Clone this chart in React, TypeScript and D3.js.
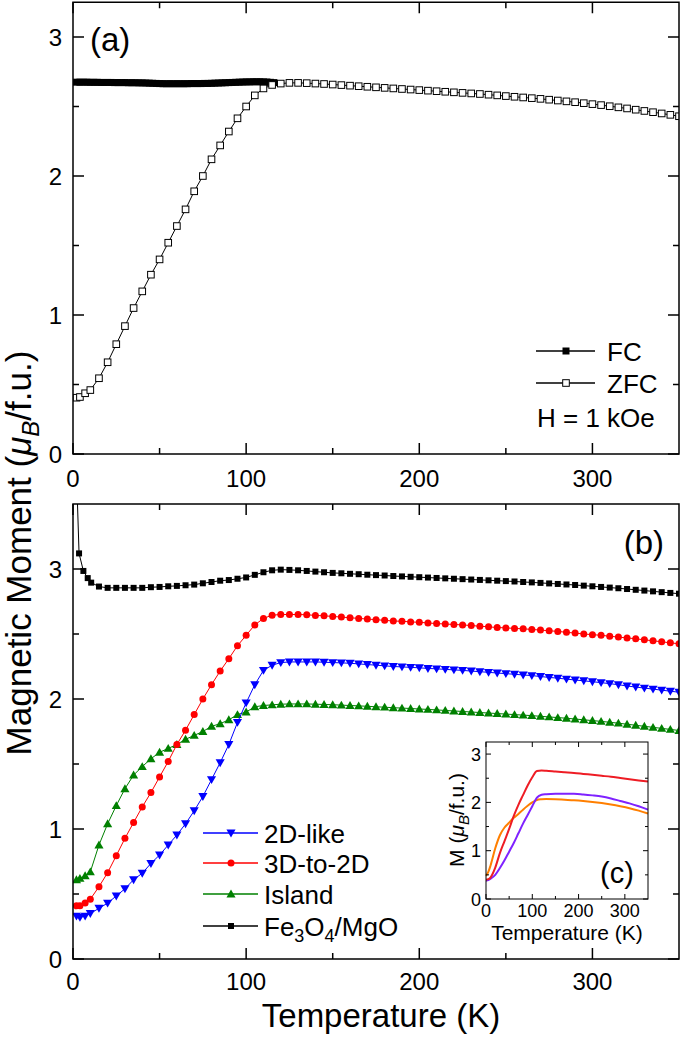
import React from "react";
import * as d3 from "d3";

// ---------- data ----------
const xMajorTicks = [0, 100, 200, 300];
const xMinorTicks = [50, 150, 250];
const yMajorTicks = [0, 1, 2, 3];
const yMinorTicks = [0.5, 1.5, 2.5];

// panel (a)
const tFC = [2, 4, 6, 8, 10, 12, 14, 16, 18, 20, 22, 24, 26, 28, 30, 32, 34, 36, 38, 40, 42, 44, 46, 48, 50, 52, 54, 56, 58, 60, 62, 64, 66, 68, 70, 72, 74, 76, 78, 80, 82, 84, 86, 88, 90, 92, 94, 96, 98, 100, 102, 104, 106, 108, 110, 112, 114, 116];
const mFC = [2.675, 2.675, 2.675, 2.675, 2.674, 2.674, 2.674, 2.673, 2.673, 2.673, 2.673, 2.672, 2.672, 2.672, 2.672, 2.671, 2.671, 2.671, 2.67, 2.67, 2.669, 2.668, 2.667, 2.666, 2.665, 2.664, 2.664, 2.664, 2.664, 2.664, 2.664, 2.664, 2.664, 2.665, 2.665, 2.665, 2.665, 2.666, 2.666, 2.667, 2.668, 2.669, 2.67, 2.671, 2.672, 2.673, 2.674, 2.675, 2.676, 2.677, 2.677, 2.678, 2.678, 2.678, 2.677, 2.676, 2.674, 2.672];

const tZFC = [2, 4, 7, 10, 15, 20, 25, 30, 35, 40, 45, 50, 55, 60, 65, 70, 75, 80, 85, 90, 95, 100, 105, 110, 115, 120, 125, 130, 135, 140, 145, 150, 155, 160, 165, 170, 175, 180, 185, 190, 195, 200, 205, 210, 215, 220, 225, 230, 235, 240, 245, 250, 255, 260, 265, 270, 275, 280, 285, 290, 295, 300, 305, 310, 315, 320, 325, 330, 335, 340, 345, 350];
const mZFC = [0.405, 0.41, 0.437, 0.46, 0.545, 0.66, 0.79, 0.92, 1.05, 1.17, 1.29, 1.4, 1.52, 1.64, 1.76, 1.89, 2.0, 2.12, 2.22, 2.32, 2.415, 2.5, 2.58, 2.63, 2.655, 2.665, 2.67, 2.67, 2.668, 2.665, 2.662, 2.658, 2.654, 2.65, 2.646, 2.642, 2.638, 2.634, 2.63, 2.626, 2.622, 2.618, 2.614, 2.61, 2.606, 2.602, 2.598, 2.594, 2.59, 2.585, 2.58, 2.575, 2.57, 2.565, 2.56, 2.555, 2.549, 2.543, 2.537, 2.531, 2.524, 2.517, 2.51, 2.502, 2.494, 2.486, 2.477, 2.468, 2.459, 2.45, 2.44, 2.43];

// panel (b)
const tB = [2, 4, 7, 10, 15, 20, 25, 30, 35, 40, 45, 50, 55, 60, 65, 70, 75, 80, 85, 90, 95, 100, 105, 110, 115, 120, 125, 130, 135, 140, 145, 150, 155, 160, 165, 170, 175, 180, 185, 190, 195, 200, 205, 210, 215, 220, 225, 230, 235, 240, 245, 250, 255, 260, 265, 270, 275, 280, 285, 290, 295, 300, 305, 310, 315, 320, 325, 330, 335, 340, 345, 350];
const m2D = [0.33, 0.32, 0.33, 0.35, 0.39, 0.43, 0.485, 0.54, 0.61, 0.66, 0.735, 0.8, 0.877, 0.954, 1.04, 1.14, 1.25, 1.38, 1.51, 1.65, 1.82, 1.97, 2.11, 2.22, 2.26, 2.28, 2.285, 2.285, 2.285, 2.285, 2.283, 2.28, 2.278, 2.275, 2.27, 2.265, 2.26, 2.255, 2.25, 2.247, 2.243, 2.24, 2.235, 2.232, 2.228, 2.224, 2.22, 2.215, 2.21, 2.205, 2.2, 2.195, 2.19, 2.185, 2.18, 2.173, 2.166, 2.16, 2.153, 2.146, 2.14, 2.133, 2.126, 2.118, 2.11, 2.1, 2.092, 2.084, 2.076, 2.068, 2.06, 2.052];
const m3D = [0.41, 0.41, 0.43, 0.46, 0.556, 0.664, 0.795, 0.928, 1.05, 1.17, 1.28, 1.4, 1.52, 1.65, 1.76, 1.88, 2.0, 2.11, 2.215, 2.31, 2.41, 2.49, 2.57, 2.62, 2.645, 2.65, 2.65, 2.65, 2.648, 2.643, 2.64, 2.635, 2.63, 2.625, 2.62, 2.615, 2.61, 2.605, 2.6, 2.598, 2.593, 2.59, 2.585, 2.58, 2.577, 2.573, 2.57, 2.565, 2.56, 2.555, 2.55, 2.547, 2.543, 2.54, 2.535, 2.53, 2.525, 2.52, 2.513, 2.507, 2.5, 2.495, 2.49, 2.483, 2.476, 2.47, 2.463, 2.455, 2.448, 2.44, 2.432, 2.425];
const mIsland = [0.61, 0.62, 0.64, 0.67, 0.877, 1.04, 1.18, 1.31, 1.415, 1.48, 1.54, 1.59, 1.62, 1.65, 1.69, 1.72, 1.75, 1.79, 1.81, 1.84, 1.88, 1.9, 1.94, 1.95, 1.955, 1.96, 1.962, 1.962, 1.962, 1.96, 1.958, 1.956, 1.953, 1.95, 1.947, 1.944, 1.94, 1.937, 1.933, 1.93, 1.927, 1.923, 1.92, 1.916, 1.912, 1.908, 1.904, 1.9, 1.896, 1.892, 1.888, 1.884, 1.88, 1.876, 1.872, 1.867, 1.862, 1.857, 1.852, 1.846, 1.84, 1.834, 1.828, 1.821, 1.814, 1.806, 1.798, 1.79, 1.782, 1.774, 1.766, 1.758];
const tFe = [2, 3.5, 6, 8.5, 10.5, 15, 20, 25, 30, 35, 40, 45, 50, 55, 60, 65, 70, 75, 80, 85, 90, 95, 100, 105, 110, 115, 120, 125, 130, 135, 140, 145, 150, 155, 160, 165, 170, 175, 180, 185, 190, 195, 200, 205, 210, 215, 220, 225, 230, 235, 240, 245, 250, 255, 260, 265, 270, 275, 280, 285, 290, 295, 300, 305, 310, 315, 320, 325, 330, 335, 340, 345, 350];
const mFe = [3.75, 3.12, 2.985, 2.93, 2.895, 2.865, 2.855, 2.855, 2.855, 2.855, 2.855, 2.86, 2.862, 2.867, 2.87, 2.875, 2.88, 2.89, 2.9, 2.91, 2.915, 2.925, 2.935, 2.955, 2.975, 2.99, 2.995, 2.993, 2.99, 2.985, 2.98, 2.975, 2.97, 2.967, 2.963, 2.96, 2.956, 2.953, 2.95, 2.946, 2.943, 2.94, 2.937, 2.934, 2.931, 2.928, 2.925, 2.922, 2.919, 2.916, 2.913, 2.91, 2.907, 2.904, 2.9, 2.897, 2.893, 2.889, 2.885, 2.881, 2.877, 2.872, 2.867, 2.862, 2.857, 2.852, 2.846, 2.84, 2.834, 2.828, 2.822, 2.816, 2.81];

// inset (c)
const tInset = [0, 5, 10, 20, 30, 40, 50, 60, 70, 80, 90, 100, 110, 120, 130, 150, 170, 190, 210, 230, 250, 270, 290, 310, 330, 350];
const mInsetRed = [0.4, 0.41, 0.45, 0.65, 0.95, 1.2, 1.45, 1.72, 1.95, 2.15, 2.35, 2.52, 2.65, 2.66, 2.655, 2.64, 2.625, 2.61, 2.59, 2.57, 2.55, 2.53, 2.505, 2.48, 2.455, 2.43];
const mInsetPurple = [0.38, 0.39, 0.42, 0.5, 0.64, 0.8, 0.98, 1.16, 1.36, 1.56, 1.74, 1.92, 2.1, 2.16, 2.17, 2.18, 2.18, 2.18, 2.165, 2.145, 2.12, 2.08, 2.03, 1.98, 1.92, 1.85];
const mInsetOrange = [0.48, 0.56, 0.7, 1.05, 1.32, 1.48, 1.58, 1.68, 1.76, 1.85, 1.93, 2.0, 2.05, 2.065, 2.07, 2.065, 2.055, 2.045, 2.03, 2.01, 1.985, 1.955, 1.92, 1.88, 1.83, 1.77];

const legendB = ["2D-like", "3D-to-2D", "Island", "Fe3O4/MgO"];
const legendA = ["FC", "ZFC"];

// ---------- styles ----------
const FONT = "'Liberation Sans', Arial, Helvetica, sans-serif";
const RED = "#ff0000";
const BLUE = "#0000ff";
const GREEN = "#008000";

type Scale = d3.ScaleLinear<number, number>;

function Frame({ xs, ys, xMaj, xMin, yMaj, yMin, majLen, minLen, sw }: any) {
  const [x0, x1] = xs.range();
  const [y0, y1] = ys.range();
  const lines: any[] = [];
  xMaj.forEach((v: number, i: number) => {
    const x = xs(v);
    lines.push(<line key={"xM" + i} x1={x} x2={x} y1={y0} y2={y0 - majLen} />);
    lines.push(<line key={"xMt" + i} x1={x} x2={x} y1={y1} y2={y1 + majLen} />);
  });
  xMin.forEach((v: number, i: number) => {
    const x = xs(v);
    lines.push(<line key={"xm" + i} x1={x} x2={x} y1={y0} y2={y0 - minLen} />);
    lines.push(<line key={"xmt" + i} x1={x} x2={x} y1={y1} y2={y1 + minLen} />);
  });
  yMaj.forEach((v: number, i: number) => {
    const y = ys(v);
    lines.push(<line key={"yM" + i} x1={x0} x2={x0 + majLen} y1={y} y2={y} />);
    lines.push(<line key={"yMr" + i} x1={x1} x2={x1 - majLen} y1={y} y2={y} />);
  });
  yMin.forEach((v: number, i: number) => {
    const y = ys(v);
    lines.push(<line key={"ym" + i} x1={x0} x2={x0 + minLen} y1={y} y2={y} />);
    lines.push(<line key={"ymr" + i} x1={x1} x2={x1 - minLen} y1={y} y2={y} />);
  });
  return (
    <g stroke="#000" strokeWidth={sw} fill="none">
      {lines}
      <rect x={x0} y={y1} width={x1 - x0} height={y0 - y1} />
    </g>
  );
}

function TickLabels({ xs, ys, xVals, yVals, fs, xBase, yEnd, yOff }: any) {
  return (
    <g fontSize={fs} fill="#000">
      {xVals.map((v: number, i: number) => (
        <text key={"x" + i} x={xs(v)} y={xBase} textAnchor="middle">{v}</text>
      ))}
      {yVals.map((v: number, i: number) => (
        <text key={"y" + i} x={yEnd} y={ys(v) + yOff} textAnchor="end">{v}</text>
      ))}
    </g>
  );
}

const triUp = d3.symbol().type(d3.symbolTriangle).size(36)() as string;

function Marker({ kind, x, y, color }: any) {
  if (kind === "square") return <rect x={x - 3} y={y - 3} width={6} height={6} fill={color} />;
  if (kind === "open") return <rect x={x - 3.3} y={y - 3.3} width={6.6} height={6.6} fill="#fff" stroke="#000" strokeWidth={1} />;
  if (kind === "fcsq") return <rect x={x - 3.5} y={y - 3.5} width={7} height={7} fill="#000" />;
  if (kind === "circle") return <circle cx={x} cy={y} r={3.5} fill={color} />;
  if (kind === "up") return <path d={triUp} transform={`translate(${x},${y + 0.8})`} fill={color} />;
  if (kind === "down") return <path d={triUp} transform={`translate(${x},${y - 0.8}) rotate(180)`} fill={color} />;
  return null;
}

function Series({ xs, ys, t, m, color, kind, lw }: any) {
  const pts = t.map((v: number, i: number) => [v, m[i]]);
  const line = d3.line<number[]>().x((d) => xs(d[0])).y((d) => ys(d[1]));
  return (
    <g>
      <path d={line(pts) || ""} fill="none" stroke={color} strokeWidth={lw} />
      {pts.map((p: number[], i: number) => (
        <Marker key={i} kind={kind} x={xs(p[0])} y={ys(p[1])} color={color} />
      ))}
    </g>
  );
}

export default function App() {
  const xA: Scale = d3.scaleLinear().domain([0, 350]).range([73, 679]);
  const yA: Scale = d3.scaleLinear().domain([0, 3.25]).range([454, 2.25]);
  const xB: Scale = d3.scaleLinear().domain([0, 350]).range([73, 679]);
  const yB: Scale = d3.scaleLinear().domain([0, 3.5]).range([959, 504]);
  const xC: Scale = d3.scaleLinear().domain([0, 350]).range([486, 648]);
  const yC: Scale = d3.scaleLinear().domain([0, 3.25]).range([899, 742]);

  const lineC = (m: number[]) =>
    d3.line<number>().x((_, i) => xC(tInset[i])).y((d) => yC(d)).curve(d3.curveMonotoneX)(m) || "";

  const legBRows = [833, 863, 894, 926];
  const legBColors = [BLUE, RED, GREEN, "#000"];
  const legBKinds = ["down", "circle", "up", "square"];

  return (
    <svg width={685} height={1037} style={{ position: "absolute", left: 0, top: 0, background: "#fff" }} fontFamily={FONT}>
      <rect x={0} y={0} width={685} height={1037} fill="#fff" />
      <defs>
        <clipPath id="clipA"><rect x={73} y={2} width={606} height={452} /></clipPath>
        <clipPath id="clipB"><rect x={73} y={504} width={606} height={455} /></clipPath>
      </defs>

      {/* ---------- panel (a) ---------- */}
      <g clipPath="url(#clipA)">
        <Series xs={xA} ys={yA} t={tFC} m={mFC} color="#000" kind="fcsq" lw={1.5} />
        <Series xs={xA} ys={yA} t={tZFC} m={mZFC} color="#000" kind="open" lw={1} />
      </g>
      <Frame xs={xA} ys={yA} xMaj={xMajorTicks} xMin={xMinorTicks} yMaj={yMajorTicks} yMin={yMinorTicks} majLen={11} minLen={6} sw={1.5} />
      <TickLabels xs={xA} ys={yA} xVals={xMajorTicks} yVals={yMajorTicks} fs={24} xBase={487} yEnd={62} yOff={8.5} />
      <text x={90} y={51} fontSize={33}>(a)</text>
      {/* legend (a) */}
      <g fontSize={26}>
        {legendA.map((name, i) => {
          const y = [351, 383][i];
          return (
            <g key={name}>
              <line x1={536} x2={595} y1={y} y2={y} stroke="#000" strokeWidth={1.5} />
              <Marker kind={i === 0 ? "fcsq" : "open"} x={566} y={y} color="#000" />
              <text x={607} y={y + 9.5}>{name}</text>
            </g>
          );
        })}
        <text x={537} y={427}>H = 1 kOe</text>
      </g>

      {/* ---------- panel (b) ---------- */}
      <g clipPath="url(#clipB)">
        <Series xs={xB} ys={yB} t={tFe} m={mFe} color="#000" kind="square" lw={1} />
        <Series xs={xB} ys={yB} t={tB} m={mIsland} color={GREEN} kind="up" lw={1} />
        <Series xs={xB} ys={yB} t={tB} m={m3D} color={RED} kind="circle" lw={1} />
        <Series xs={xB} ys={yB} t={tB} m={m2D} color={BLUE} kind="down" lw={1} />
      </g>
      <Frame xs={xB} ys={yB} xMaj={xMajorTicks} xMin={xMinorTicks} yMaj={yMajorTicks} yMin={yMinorTicks} majLen={11} minLen={6} sw={1.5} />
      <TickLabels xs={xB} ys={yB} xVals={xMajorTicks} yVals={yMajorTicks} fs={24} xBase={990} yEnd={62} yOff={8.5} />
      <text x={664} y={554} fontSize={33} textAnchor="end">(b)</text>
      {/* legend (b) */}
      <g fontSize={26}>
        {legendB.map((name, i) => {
          const y = legBRows[i];
          return (
            <g key={name}>
              <line x1={203} x2={258} y1={y} y2={y} stroke={legBColors[i]} strokeWidth={1.5} />
              <Marker kind={legBKinds[i]} x={231} y={y} color={legBColors[i]} />
              {i === 3 ? (
                <text x={264} y={y + 9.5}>
                  Fe<tspan fontSize={18} dy={6}>3</tspan>
                  <tspan dy={-6}>O</tspan>
                  <tspan fontSize={18} dy={6}>4</tspan>
                  <tspan dy={-6}>/MgO</tspan>
                </text>
              ) : (
                <text x={264} y={y + 9.5}>{name}</text>
              )}
            </g>
          );
        })}
      </g>

      {/* ---------- inset (c) ---------- */}
      <rect x={486} y={742} width={162} height={157} fill="#fff" />
      <path d={lineC(mInsetOrange)} fill="none" stroke="#ff7f00" strokeWidth={2} />
      <path d={lineC(mInsetPurple)} fill="none" stroke="#7f22ff" strokeWidth={2} />
      <path d={lineC(mInsetRed)} fill="none" stroke="#ee1c24" strokeWidth={2} />
      <Frame xs={xC} ys={yC} xMaj={xMajorTicks} xMin={xMinorTicks} yMaj={yMajorTicks} yMin={yMinorTicks} majLen={5} minLen={3} sw={1} />
      <TickLabels xs={xC} ys={yC} xVals={xMajorTicks} yVals={yMajorTicks} fs={18} xBase={917} yEnd={481} yOff={6.5} />
      <text x={600} y={883} fontSize={29}>(c)</text>
      <text x={567} y={940} fontSize={21} textAnchor="middle">Temperature (K)</text>
      <text transform="translate(464,820) rotate(-90)" fontSize={21} textAnchor="middle">
        M (<tspan fontStyle="italic">μ</tspan>
        <tspan fontStyle="italic" fontSize={15} dy={5}>B</tspan>
        <tspan dy={-5}>/f.u.)</tspan>
      </text>

      {/* ---------- axis titles ---------- */}
      <text x={381} y={1027} fontSize={33} textAnchor="middle">Temperature (K)</text>
      <text transform="translate(31,553) rotate(-90)" fontSize={35} textAnchor="middle">
        Magnetic Moment (<tspan fontStyle="italic">μ</tspan>
        <tspan fontStyle="italic" fontSize={24} dy={8}>B</tspan>
        <tspan dy={-8}>/f.u.)</tspan>
      </text>
    </svg>
  );
}
